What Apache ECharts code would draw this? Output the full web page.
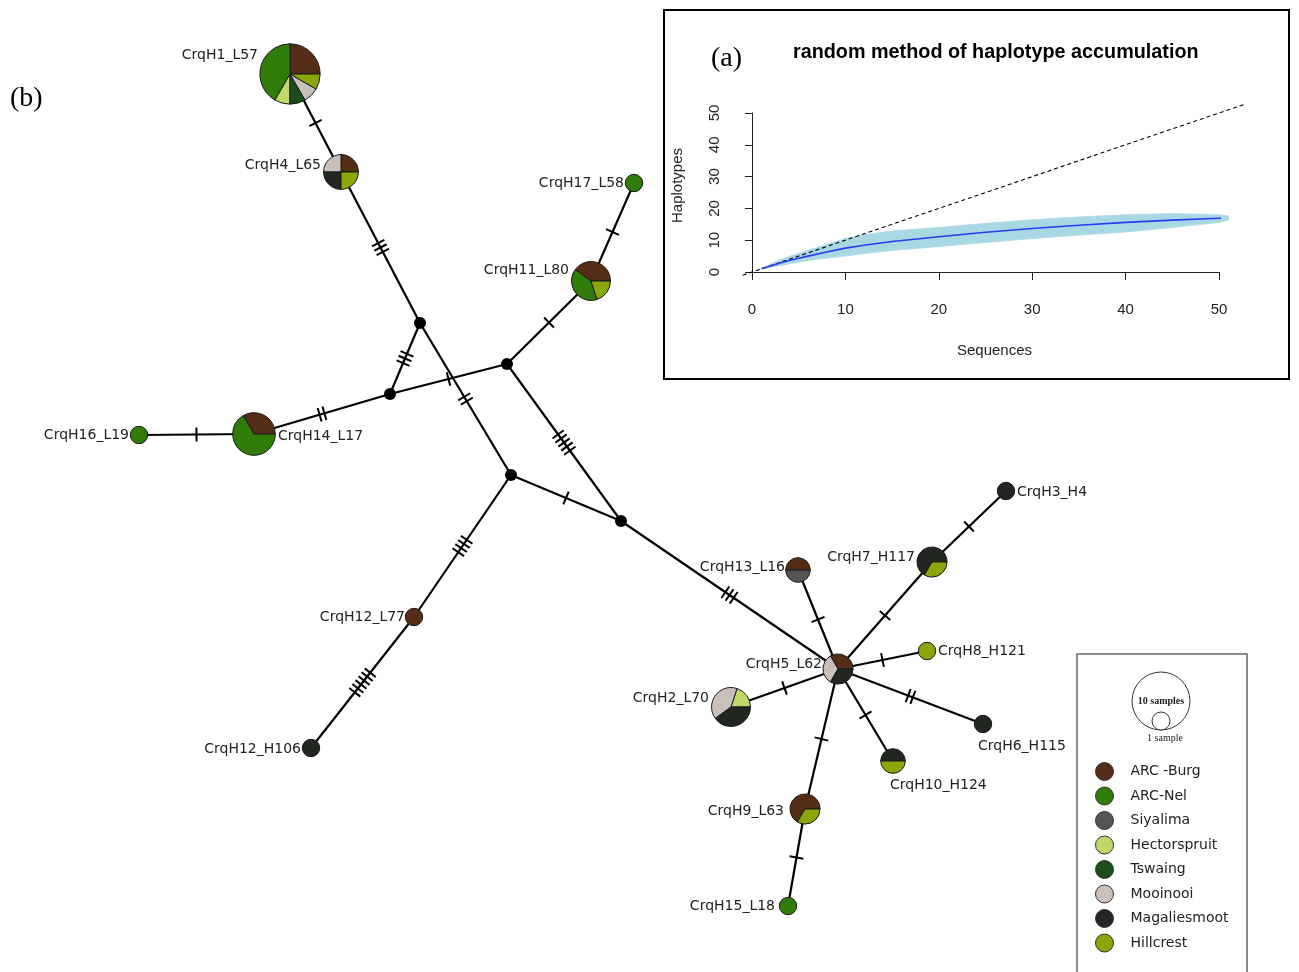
<!DOCTYPE html>
<html>
<head>
<meta charset="utf-8">
<title>Haplotype network</title>
<script src="https://cdn.jsdelivr.net/npm/echarts@6/dist/echarts.min.js"></script>
<style>
  html, body { margin: 0; padding: 0; background: #fff; }
  #main { width: 1299px; height: 972px; }
</style>
</head>
<body>
<div id="main"></div>
<script>
// populations, legend order
const populations = ['ARC -Burg', 'ARC-Nel', 'Siyalima', 'Hectorspruit', 'Tswaing', 'Mooinooi', 'Magaliesmoot', 'Hillcrest'];
const popColors = ['#552d16', '#2f7c08', '#555555', '#c0d86a', '#1a4d19', '#c9c0bb', '#212720', '#8ba50a'];

// haplotypes: name, layout position, samples per population
const hapNames = ['CrqH1_L57', 'CrqH4_L65', 'CrqH17_L58', 'CrqH11_L80', 'CrqH16_L19', 'CrqH14_L17',
  'CrqH12_L77', 'CrqH12_H106', 'CrqH13_L16', 'CrqH7_H117', 'CrqH3_H4', 'CrqH8_H121',
  'CrqH6_H115', 'CrqH10_H124', 'CrqH5_L62', 'CrqH2_L70', 'CrqH9_L63', 'CrqH15_L18'];
const hapX = [290, 341, 634, 591, 139, 254, 414, 311, 798, 932, 1006, 927, 983, 893, 838, 731, 805, 788];
const hapY = [74, 172, 183, 281, 435, 434, 617, 748, 570, 562, 491, 651, 724, 761, 669, 707, 809, 906];
const hapCounts = [
  [3, 5, 0, 1, 1, 1, 0, 1],
  [1, 0, 0, 0, 0, 1, 1, 1],
  [0, 1, 0, 0, 0, 0, 0, 0],
  [2, 2, 0, 0, 0, 0, 0, 1],
  [0, 1, 0, 0, 0, 0, 0, 0],
  [2, 4, 0, 0, 0, 0, 0, 0],
  [1, 0, 0, 0, 0, 0, 0, 0],
  [0, 0, 0, 0, 0, 0, 1, 0],
  [1, 0, 1, 0, 0, 0, 0, 0],
  [0, 0, 0, 0, 0, 0, 2, 1],
  [0, 0, 0, 0, 0, 0, 1, 0],
  [0, 0, 0, 0, 0, 0, 0, 1],
  [0, 0, 0, 0, 0, 0, 1, 0],
  [0, 0, 0, 0, 0, 0, 1, 1],
  [1, 0, 0, 0, 0, 1, 1, 0],
  [0, 0, 0, 1, 0, 2, 2, 0],
  [2, 0, 0, 0, 0, 0, 0, 1],
  [0, 1, 0, 0, 0, 0, 0, 0]
];

// median vectors
const medX = [420, 507, 390, 511, 621];
const medY = [323, 364, 394, 475, 521];

// edges (h = haplotype index, m = median index) and mutation steps
const edgeFrom = ['h0', 'h1', 'm0', 'm0', 'm2', 'm2', 'h5', 'm1', 'h3', 'm1', 'm3', 'm3', 'h6', 'm4', 'h14', 'h14', 'h9', 'h14', 'h14', 'h14', 'h14', 'h16', 'h14'];
const edgeTo = ['h1', 'm0', 'm2', 'm3', 'm1', 'h5', 'h4', 'h3', 'h2', 'm4', 'm4', 'h6', 'h7', 'h14', 'h8', 'h9', 'h10', 'h11', 'h12', 'h13', 'h16', 'h17', 'h15'];
const edgeSteps = [1, 3, 3, 2, 1, 2, 1, 1, 1, 5, 1, 4, 6, 3, 1, 1, 1, 1, 2, 1, 1, 1, 1];

// accumulation curve (inset a)
const seqX = [1, 2, 3, 4, 5, 6, 8, 10, 12, 15, 20, 25, 30, 35, 40, 45, 50, 51];
const hapMean = [1, 1.9, 2.8, 3.6, 4.3, 5.0, 6.3, 7.5, 8.4, 9.6, 11.1, 12.5, 13.7, 14.7, 15.6, 16.3, 16.9, 17];
const hapUpper = [1, 2.5, 3.8, 4.9, 5.9, 6.8, 8.7, 10.5, 11.7, 12.9, 14.0, 15.3, 16.4, 17.3, 18.0, 18.4, 18.0, 17.6];
const hapLower = [1, 1.5, 2.0, 2.6, 3.1, 3.6, 4.4, 5.0, 5.8, 6.8, 8.0, 9.3, 10.5, 11.6, 12.6, 14.0, 15.6, 16.4];
const refX = [-1, 52.8];
const refY = [-1, 52.8];

// label placement next to each node: [dx, dy, align]
const labelPlace = {
  'CrqH1_L57': [-32, -19, 'right'], 'CrqH4_L65': [-20, -7, 'right'], 'CrqH17_L58': [-10, 0, 'right'],
  'CrqH11_L80': [-22, -11, 'right'], 'CrqH16_L19': [-10, 0, 'right'], 'CrqH14_L17': [24, 2, 'left'],
  'CrqH12_L77': [-9, 0, 'right'], 'CrqH12_H106': [-10, 1, 'right'], 'CrqH13_L16': [-13, -3, 'right'],
  'CrqH7_H117': [-17, -5, 'right'], 'CrqH3_H4': [11, 1, 'left'], 'CrqH8_H121': [11, 0, 'left'],
  'CrqH6_H115': [-5, 22, 'left'], 'CrqH10_H124': [-3, 24, 'left'], 'CrqH5_L62': [-16, -5, 'right'],
  'CrqH2_L70': [-22, -9, 'right'], 'CrqH9_L63': [-21, 2, 'right'], 'CrqH15_L18': [-13, 0, 'right']
};

const NODE_UNIT = 8.7;
const TICK_GAP = 5;
const TICK_HALF = 7;
const LABEL_FONT = '14px "DejaVu Sans", sans-serif';
const BAND_COLOR = '#a9d8e5';

function pointOf(key) {
  const i = +key.slice(1);
  return key[0] === 'h' ? [hapX[i], hapY[i]] : [medX[i], medY[i]];
}

const edgeData = edgeFrom.map((f, i) => {
  const a = pointOf(f);
  const b = pointOf(edgeTo[i]);
  return [a[0], a[1], b[0], b[1], edgeSteps[i]];
});

function renderEdge(params, api) {
  const a = api.coord([api.value(0), api.value(1)]);
  const b = api.coord([api.value(2), api.value(3)]);
  const n = api.value(4);
  const dx = b[0] - a[0];
  const dy = b[1] - a[1];
  const len = Math.hypot(dx, dy);
  const ux = dx / len;
  const uy = dy / len;
  const mx = (a[0] + b[0]) / 2;
  const my = (a[1] + b[1]) / 2;
  const children = [{
    type: 'line',
    shape: { x1: a[0], y1: a[1], x2: b[0], y2: b[1] },
    style: { stroke: '#000', lineWidth: 2.2 }
  }];
  for (let i = 0; i < n; i++) {
    const off = (i - (n - 1) / 2) * TICK_GAP;
    const cx = mx + ux * off;
    const cy = my + uy * off;
    children.push({
      type: 'line',
      shape: { x1: cx - uy * TICK_HALF, y1: cy + ux * TICK_HALF, x2: cx + uy * TICK_HALF, y2: cy - ux * TICK_HALF },
      style: { stroke: '#000', lineWidth: 2 }
    });
  }
  return { type: 'group', children };
}

function renderHap(params, api) {
  const i = params.dataIndex;
  const c = api.coord([api.value(0), api.value(1)]);
  const counts = hapCounts[i];
  const total = counts.reduce((s, v) => s + v, 0);
  const r = NODE_UNIT * Math.sqrt(total);
  const children = [];
  let acc = 0;
  counts.forEach((v, p) => {
    if (!v) return;
    const a0 = acc / total * Math.PI * 2;
    acc += v;
    const a1 = acc / total * Math.PI * 2;
    if (v === total) {
      children.push({
        type: 'circle',
        shape: { cx: c[0], cy: c[1], r },
        style: { fill: popColors[p], stroke: '#1a1a1a', lineWidth: 1 }
      });
    } else {
      // counter-clockwise from 3 o'clock
      children.push({
        type: 'sector',
        shape: { cx: c[0], cy: c[1], r0: 0, r, startAngle: -a1, endAngle: -a0, clockwise: true },
        style: { fill: popColors[p], stroke: '#1a1a1a', lineWidth: 1 }
      });
    }
  });
  const lp = labelPlace[hapNames[i]];
  children.push({
    type: 'text',
    style: {
      text: hapNames[i], x: c[0] + lp[0], y: c[1] + lp[1],
      font: LABEL_FONT, fill: '#222',
      textAlign: lp[2], textVerticalAlign: 'middle'
    }
  });
  return { type: 'group', children };
}

// confidence band drawn strip by strip between neighbouring sample sizes
function renderBand(params, api) {
  const i = params.dataIndex;
  if (i >= seqX.length - 1) return;
  const pts = [
    api.coord([seqX[i], hapLower[i]]),
    api.coord([seqX[i], hapUpper[i]]),
    api.coord([seqX[i + 1], hapUpper[i + 1]]),
    api.coord([seqX[i + 1], hapLower[i + 1]])
  ];
  return { type: 'polygon', shape: { points: pts }, style: { fill: BAND_COLOR, stroke: BAND_COLOR, lineWidth: 0.8 } };
}

function renderRef(params, api) {
  const a = api.coord([api.value(0), api.value(1)]);
  const b = api.coord([api.value(2), api.value(3)]);
  return {
    type: 'line',
    shape: { x1: a[0], y1: a[1], x2: b[0], y2: b[1] },
    style: { stroke: '#000', lineWidth: 1.1, lineDash: [4, 3] }
  };
}

const chart = echarts.init(document.getElementById('main'));

const popSeries = populations.map((p, i) => ({
  name: p,
  type: 'scatter',
  xAxisIndex: 1,
  yAxisIndex: 1,
  data: [],
  itemStyle: { color: popColors[i], opacity: 1, borderColor: '#333', borderWidth: 1 }
}));

const option = {
  backgroundColor: '#fff',
  animation: false,
  title: [
    {
      text: 'random method of haplotype accumulation', left: 793, top: 43, padding: 0,
      textStyle: { fontFamily: '"Liberation Sans", Arial, sans-serif', fontWeight: 'bold', fontSize: 19.8, color: '#000' }
    },
    {
      text: '(a)', left: 711, top: 45, padding: 0,
      textStyle: { fontFamily: '"Liberation Serif", serif', fontWeight: 'normal', fontSize: 28, color: '#000' }
    },
    {
      text: '(b)', left: 10, top: 85, padding: 0,
      textStyle: { fontFamily: '"Liberation Serif", serif', fontWeight: 'normal', fontSize: 28, color: '#000' }
    }
  ],
  legend: {
    data: populations,
    orient: 'vertical',
    left: 1095,
    top: 762,
    padding: 0,
    itemWidth: 18,
    itemHeight: 18,
    itemGap: 5.5,
    icon: 'circle',
    selectedMode: false,
    itemStyle: { borderColor: '#333', borderWidth: 1, opacity: 1 },
    textStyle: { fontFamily: '"DejaVu Sans", sans-serif', fontSize: 14, color: '#222', padding: [0, 0, 0, 12] }
  },
  graphic: [
    { type: 'rect', shape: { x: 664, y: 10, width: 625, height: 369 }, style: { fill: 'none', stroke: '#000', lineWidth: 2 } },
    { type: 'rect', shape: { x: 1077, y: 654, width: 170, height: 340 }, style: { fill: 'none', stroke: '#666', lineWidth: 1.5 } },
    { type: 'circle', shape: { cx: 1161, cy: 701, r: 29 }, style: { fill: 'none', stroke: '#333', lineWidth: 1 } },
    { type: 'circle', shape: { cx: 1161, cy: 721, r: 9 }, style: { fill: '#fff', stroke: '#333', lineWidth: 1 } },
    { type: 'text', style: { text: '10 samples', x: 1161, y: 701, textAlign: 'center', textVerticalAlign: 'middle', font: 'bold 10px "Liberation Serif", serif', fill: '#222' } },
    { type: 'text', style: { text: '1 sample', x: 1165, y: 738, textAlign: 'center', textVerticalAlign: 'middle', font: '10px "Liberation Serif", serif', fill: '#222' } }
  ],
  grid: [
    { left: 752, top: 113, width: 467, height: 159 },
    { left: 0, top: 0, width: 1299, height: 972 }
  ],
  xAxis: [
    {
      gridIndex: 0, type: 'value', min: 0, max: 50, interval: 10, offset: 9,
      axisLine: { lineStyle: { color: '#222', width: 1 } },
      axisTick: { length: 8, lineStyle: { color: '#222' } },
      axisLabel: { fontFamily: '"Liberation Sans", Arial, sans-serif', fontSize: 15, color: '#222', margin: 21 },
      splitLine: { show: false },
      name: 'Sequences', nameLocation: 'middle', nameGap: 62,
      nameTextStyle: { fontFamily: '"Liberation Sans", Arial, sans-serif', fontSize: 15, color: '#222', padding: [0, 0, 0, 18] }
    },
    { gridIndex: 1, type: 'value', min: 0, max: 1299, show: false }
  ],
  yAxis: [
    {
      gridIndex: 0, type: 'value', min: 0, max: 50, interval: 10, offset: 9,
      axisLine: { show: true, lineStyle: { color: '#222', width: 1 } },
      axisTick: { show: true, length: 7, lineStyle: { color: '#222' } },
      axisLabel: { fontFamily: '"Liberation Sans", Arial, sans-serif', fontSize: 15, color: '#222', rotate: 90, margin: 21 },
      splitLine: { show: false },
      name: 'Haplotypes', nameLocation: 'middle', nameGap: 58,
      nameTextStyle: { fontFamily: '"Liberation Sans", Arial, sans-serif', fontSize: 15, color: '#222', padding: [0, 0, 0, 14] }
    },
    { gridIndex: 1, type: 'value', min: 0, max: 972, inverse: true, show: false }
  ],
  series: [
    {
      name: 'band', type: 'custom', xAxisIndex: 0, yAxisIndex: 0,
      renderItem: renderBand, data: seqX.map((x, i) => [x, hapLower[i], hapUpper[i]]),
      encode: { x: 0, y: [1, 2] }, silent: true, clip: false, z: 1
    },
    {
      name: 'reference', type: 'custom', xAxisIndex: 0, yAxisIndex: 0,
      renderItem: renderRef, data: [[refX[0], refY[0], refX[1], refY[1]]],
      encode: { x: [0, 2], y: [1, 3] }, silent: true, clip: false, z: 2
    },
    {
      name: 'mean', type: 'line', xAxisIndex: 0, yAxisIndex: 0, clip: false,
      data: seqX.map((x, i) => [x, hapMean[i]]),
      showSymbol: false, lineStyle: { color: '#2a3cf5', width: 1.6 }, z: 3
    },
    {
      name: 'edges', type: 'custom', xAxisIndex: 1, yAxisIndex: 1,
      renderItem: renderEdge, data: edgeData, encode: { x: [0, 2], y: [1, 3] },
      silent: true, clip: false, z: 1
    },
    {
      name: 'medians', type: 'scatter', xAxisIndex: 1, yAxisIndex: 1,
      data: medX.map((x, i) => [x, medY[i]]), symbolSize: 12,
      itemStyle: { color: '#000', opacity: 1 }, z: 2
    },
    {
      name: 'haplotypes', type: 'custom', xAxisIndex: 1, yAxisIndex: 1,
      renderItem: renderHap, data: hapX.map((x, i) => [x, hapY[i]]), clip: false, z: 3
    },
    ...popSeries
  ]
};

chart.setOption(option);
</script>
</body>
</html>
